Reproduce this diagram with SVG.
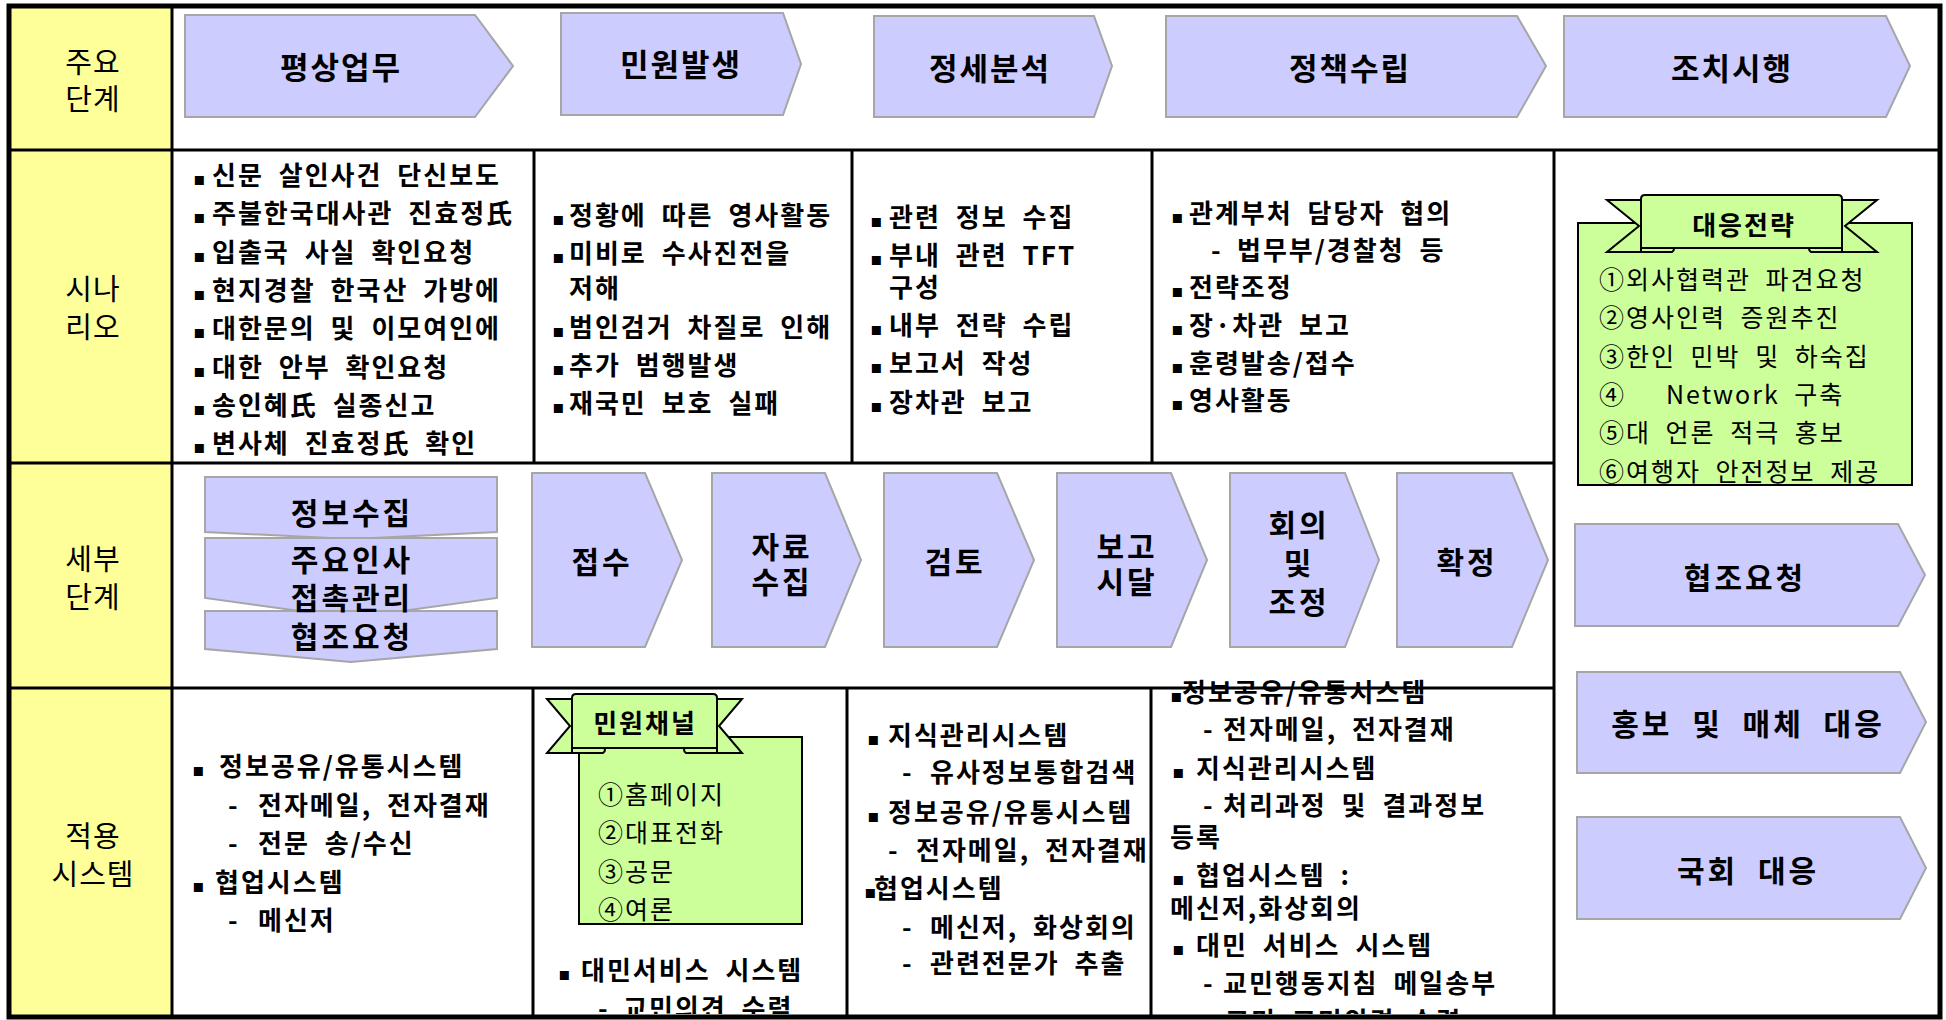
<svg xmlns="http://www.w3.org/2000/svg" width="1946" height="1020" viewBox="0 0 1946 1020">
<style>
.arr{fill:#CCCCFF;stroke:#A6A6A6;stroke-width:2}
.grn{fill:#CCFF99;stroke:#000;stroke-width:2}
.ln{stroke:#000;stroke-width:3;fill:none}
.t{font-family:"Noto Sans CJK KR","Noto Sans",sans-serif;font-size:26px;font-weight:bold;letter-spacing:2px;word-spacing:7px;fill:#000}
.h{font-family:"Noto Sans CJK KR","Noto Sans",sans-serif;font-size:31px;font-weight:bold;letter-spacing:2px;fill:#000;text-anchor:middle}
.s{font-family:"Noto Sans CJK KR","Noto Sans",sans-serif;font-size:30px;font-weight:bold;letter-spacing:3px;fill:#000;text-anchor:middle;word-spacing:10px}
.y{font-family:"Noto Sans CJK KR","Noto Sans",sans-serif;font-size:29px;font-weight:normal;letter-spacing:1px;fill:#000;text-anchor:middle}
.g{font-family:"Noto Sans CJK KR","Noto Sans",sans-serif;font-size:25px;font-weight:normal;letter-spacing:2px;word-spacing:7px;fill:#000}
.bn{font-family:"Noto Sans CJK KR","Noto Sans",sans-serif;font-size:26px;font-weight:bold;letter-spacing:2px;fill:#000;text-anchor:middle}
.b{font-family:"DejaVu Sans",sans-serif;font-size:18px;font-weight:normal;letter-spacing:0}
</style>
<defs>
<clipPath id="clip"><rect x="9" y="6" width="1931" height="1008"/></clipPath>
</defs>
<rect x="0" y="0" width="1946" height="1020" fill="#fff"/>
<g id="yellow-column">
<rect x="9" y="6" width="163" height="1011" fill="#FFFF99"/>
</g>
<g id="grid">
<line class="ln" x1="9" y1="150" x2="1940" y2="150"/>
<line class="ln" x1="9" y1="463" x2="1554" y2="463"/>
<line class="ln" x1="9" y1="688" x2="1554" y2="688"/>
<line class="ln" x1="172" y1="6" x2="172" y2="1017"/>
<line class="ln" x1="1554" y1="150" x2="1554" y2="1017"/>
<line class="ln" x1="534" y1="150" x2="534" y2="463"/>
<line class="ln" x1="852" y1="150" x2="852" y2="463"/>
<line class="ln" x1="1152" y1="150" x2="1152" y2="463"/>
<line class="ln" x1="533" y1="688" x2="533" y2="1017"/>
<line class="ln" x1="847" y1="688" x2="847" y2="1017"/>
<line class="ln" x1="1151" y1="688" x2="1151" y2="1017"/>
</g>
<g id="row-labels">
<text class="y" x="93" y="73">주요</text>
<text class="y" x="93" y="110">단계</text>
<text class="y" x="93" y="300">시나</text>
<text class="y" x="93" y="338">리오</text>
<text class="y" x="93" y="570">세부</text>
<text class="y" x="93" y="608">단계</text>
<text class="y" x="93" y="847">적용</text>
<text class="y" x="93" y="885">시스템</text>
</g>
<g id="main-steps">
<g id="step-1"><polygon class="arr" points="185,15 475,15 513,66 475,117 185,117"/><text class="h" x="341" y="79">평상업무</text></g>
<g id="step-2"><polygon class="arr" points="561,13 783,13 801,64 783,115 561,115"/><text class="h" x="681" y="76">민원발생</text></g>
<g id="step-3"><polygon class="arr" points="874,16 1094,16 1112,66 1094,117 874,117"/><text class="h" x="990" y="80">정세분석</text></g>
<g id="step-4"><polygon class="arr" points="1166,16 1517,16 1546,66 1517,117 1166,117"/><text class="h" x="1350" y="80">정책수립</text></g>
<g id="step-5"><polygon class="arr" points="1564,16 1886,16 1910,66 1886,117 1564,117"/><text class="h" x="1732" y="80">조치시행</text></g>
</g>
<g id="scenario-1">
<text class="t" y="185"><tspan class="b" x="193">▪</tspan><tspan x="212">신문 살인사건 단신보도</tspan></text>
<text class="t" y="223"><tspan class="b" x="193">▪</tspan><tspan x="212">주불한국대사관 진효정氏</tspan></text>
<text class="t" y="262"><tspan class="b" x="193">▪</tspan><tspan x="212">입출국 사실 확인요청</tspan></text>
<text class="t" y="300"><tspan class="b" x="193">▪</tspan><tspan x="212">현지경찰 한국산 가방에</tspan></text>
<text class="t" y="338"><tspan class="b" x="193">▪</tspan><tspan x="212">대한문의 및 이모여인에</tspan></text>
<text class="t" y="377"><tspan class="b" x="193">▪</tspan><tspan x="212">대한 안부 확인요청</tspan></text>
<text class="t" y="415"><tspan class="b" x="193">▪</tspan><tspan x="212">송인혜氏 실종신고</tspan></text>
<text class="t" y="453"><tspan class="b" x="193">▪</tspan><tspan x="212">변사체 진효정氏 확인</tspan></text>
</g>
<g id="scenario-2">
<text class="t" y="225"><tspan class="b" x="552">▪</tspan><tspan x="569">정황에 따른 영사활동</tspan></text>
<text class="t" y="263"><tspan class="b" x="552">▪</tspan><tspan x="569">미비로 수사진전을</tspan></text>
<text class="t" x="569" y="298">저해</text>
<text class="t" y="337"><tspan class="b" x="552">▪</tspan><tspan x="569">범인검거 차질로 인해</tspan></text>
<text class="t" y="375"><tspan class="b" x="552">▪</tspan><tspan x="569">추가 범행발생</tspan></text>
<text class="t" y="413"><tspan class="b" x="552">▪</tspan><tspan x="569">재국민 보호 실패</tspan></text>
</g>
<g id="scenario-3">
<text class="t" y="227"><tspan class="b" x="870">▪</tspan><tspan x="889">관련 정보 수집</tspan></text>
<text class="t" y="265"><tspan class="b" x="870">▪</tspan><tspan x="889">부내 관련 TFT</tspan></text>
<text class="t" x="889" y="297">구성</text>
<text class="t" y="335"><tspan class="b" x="870">▪</tspan><tspan x="889">내부 전략 수립</tspan></text>
<text class="t" y="373"><tspan class="b" x="870">▪</tspan><tspan x="889">보고서 작성</tspan></text>
<text class="t" y="412"><tspan class="b" x="870">▪</tspan><tspan x="889">장차관 보고</tspan></text>
</g>
<g id="scenario-4">
<text class="t" y="223"><tspan class="b" x="1171">▪</tspan><tspan x="1189">관계부처 담당자 협의</tspan></text>
<text class="t" y="260"><tspan x="1211">-</tspan><tspan x="1237">법무부/경찰청 등</tspan></text>
<text class="t" y="297"><tspan class="b" x="1171">▪</tspan><tspan x="1189">전략조정</tspan></text>
<text class="t" y="335"><tspan class="b" x="1171">▪</tspan><tspan x="1189">장·차관 보고</tspan></text>
<text class="t" y="373"><tspan class="b" x="1171">▪</tspan><tspan x="1189">훈령발송/접수</tspan></text>
<text class="t" y="410"><tspan class="b" x="1171">▪</tspan><tspan x="1189">영사활동</tspan></text>
</g>
<g id="strategy">
<rect class="grn" x="1578" y="223" width="334" height="262"/>
<polygon class="grn" points="1607,200 1641,200 1641,252 1607,252 1639,226"/>
<polygon class="grn" points="1877,200 1842,200 1842,252 1877,252 1845,226"/>
<path class="grn" d="M1641,246 H1672 Q1676,249 1672,252 H1641 Z"/>
<path class="grn" d="M1842,246 H1811 Q1807,249 1811,252 H1842 Z"/>
<path class="grn" d="M1641,248 V199 Q1641,195 1645,195 H1838 Q1842,195 1842,199 V248 Z"/>
<text class="bn" x="1744" y="235">대응전략</text>
<text class="g" x="1599" y="289">①외사협력관 파견요청</text>
<text class="g" x="1599" y="327">②영사인력 증원추진</text>
<text class="g" x="1599" y="366">③한인 민박 및 하숙집</text>
<text class="g" y="404"><tspan x="1599">④</tspan><tspan x="1666">Network 구축</tspan></text>
<text class="g" x="1599" y="442">⑤대 언론 적극 홍보</text>
<text class="g" x="1599" y="481">⑥여행자 안전정보 제공</text>
</g>
<g id="detail-steps">
<g id="d-collect">
<polygon class="arr" points="205,477 497,477 497,532 351,539 205,532"/>
<polygon class="arr" points="205,538 497,538 497,598 351,618 205,598"/>
<polygon class="arr" points="205,611 497,611 497,649 351,662 205,649"/>
<text class="s" x="352" y="524">정보수집</text>
<text class="s" x="352" y="571">주요인사</text>
<text class="s" x="352" y="609">접촉관리</text>
<text class="s" x="352" y="648">협조요청</text>
</g>
<g id="d-receive"><polygon class="arr" points="532,473 645,473 682,560 645,647 532,647"/><text class="s" x="602" y="573">접수</text></g>
<g id="d-data"><polygon class="arr" points="712,473 825,473 861,560 825,647 712,647"/><text class="s" x="782" y="558">자료</text><text class="s" x="782" y="593">수집</text></g>
<g id="d-review"><polygon class="arr" points="884,473 997,473 1034,560 997,647 884,647"/><text class="s" x="955" y="573">검토</text></g>
<g id="d-report"><polygon class="arr" points="1057,473 1171,473 1207,560 1171,647 1057,647"/><text class="s" x="1127" y="558">보고</text><text class="s" x="1127" y="593">시달</text></g>
<g id="d-meeting"><polygon class="arr" points="1230,473 1345,473 1379,560 1345,647 1230,647"/><text class="s" x="1299" y="536">회의</text><text class="s" x="1299" y="574">및</text><text class="s" x="1299" y="613">조정</text></g>
<g id="d-confirm"><polygon class="arr" points="1397,473 1512,473 1548,560 1512,647 1397,647"/><text class="s" x="1467" y="573">확정</text></g>
</g>
<g id="actions">
<g id="a-coop"><polygon class="arr" points="1575,524 1898,524 1925,575 1898,626 1575,626"/><text class="s" x="1745" y="589">협조요청</text></g>
<g id="a-pr"><polygon class="arr" points="1577,672 1900,672 1926,722 1900,773 1577,773"/><text class="s" x="1748" y="735">홍보 및 매체 대응</text></g>
<g id="a-assembly"><polygon class="arr" points="1577,817 1900,817 1926,868 1900,919 1577,919"/><text class="s" x="1748" y="882">국회 대응</text></g>
</g>
<g id="system-1">
<text class="t" y="776"><tspan class="b" x="192">▪</tspan><tspan x="219">정보공유/유통시스템</tspan></text>
<text class="t" y="815"><tspan x="228">-</tspan><tspan x="258">전자메일, 전자결재</tspan></text>
<text class="t" y="853"><tspan x="228">-</tspan><tspan x="258">전문 송/수신</tspan></text>
<text class="t" y="892"><tspan class="b" x="192">▪</tspan><tspan x="215">협업시스템</tspan></text>
<text class="t" y="930"><tspan x="228">-</tspan><tspan x="258">메신저</tspan></text>
</g>
<g id="system-2" clip-path="url(#clip)">
<rect class="grn" x="579" y="737" width="223" height="187"/>
<polygon class="grn" points="547,699 572,699 572,753 547,753 570,726"/>
<polygon class="grn" points="742,699 717,699 717,753 742,753 719,726"/>
<path class="grn" d="M572,747 H603 Q607,750 603,753 H572 Z"/>
<path class="grn" d="M717,747 H686 Q682,750 686,753 H717 Z"/>
<path class="grn" d="M572,748 V698 Q572,694 576,694 H713 Q717,694 717,698 V748 Z"/>
<text class="bn" x="645" y="733">민원채널</text>
<text class="g" x="598" y="804">①홈페이지</text>
<text class="g" x="598" y="842">②대표전화</text>
<text class="g" x="598" y="881">③공문</text>
<text class="g" x="598" y="919">④여론</text>
<text class="t" y="980"><tspan class="b" x="558">▪</tspan><tspan x="581">대민서비스 시스템</tspan></text>
<text class="t" y="1018"><tspan x="598">-</tspan><tspan x="623">교민의견 수렴</tspan></text>
</g>
<g id="system-3">
<text class="t" y="745"><tspan class="b" x="867">▪</tspan><tspan x="888">지식관리시스템</tspan></text>
<text class="t" y="782"><tspan x="902">-</tspan><tspan x="930">유사정보통합검색</tspan></text>
<text class="t" y="822"><tspan class="b" x="867">▪</tspan><tspan x="888">정보공유/유통시스템</tspan></text>
<text class="t" y="860"><tspan x="888">-</tspan><tspan x="916">전자메일, 전자결재</tspan></text>
<text class="t" y="898"><tspan class="b" x="864">▪</tspan><tspan x="874">협업시스템</tspan></text>
<text class="t" y="937"><tspan x="902">-</tspan><tspan x="930">메신저, 화상회의</tspan></text>
<text class="t" y="973"><tspan x="902">-</tspan><tspan x="930">관련전문가 추출</tspan></text>
</g>
<g id="system-4" clip-path="url(#clip)">
<text class="t" y="702"><tspan class="b" x="1170">▪</tspan><tspan x="1182">정보공유/유통시스템</tspan></text>
<text class="t" y="739"><tspan x="1203">-</tspan><tspan x="1223">전자메일, 전자결재</tspan></text>
<text class="t" y="778"><tspan class="b" x="1172">▪</tspan><tspan x="1196">지식관리시스템</tspan></text>
<text class="t" y="815"><tspan x="1203">-</tspan><tspan x="1223">처리과정 및 결과정보</tspan></text>
<text class="t" x="1170" y="847">등록</text>
<text class="t" y="885"><tspan class="b" x="1172">▪</tspan><tspan x="1196">협업시스템 :</tspan></text>
<text class="t" x="1170" y="918">메신저,화상회의</text>
<text class="t" y="955"><tspan class="b" x="1172">▪</tspan><tspan x="1196">대민 서비스 시스템</tspan></text>
<text class="t" y="993"><tspan x="1203">-</tspan><tspan x="1223">교민행동지침 메일송부</tspan></text>
<text class="t" x="1225" y="1031">교민 교민의견 수렴</text>
</g>
<g id="frame">
<rect x="9" y="6" width="1931" height="1011" fill="none" stroke="#000" stroke-width="5"/>
</g>
</svg>
